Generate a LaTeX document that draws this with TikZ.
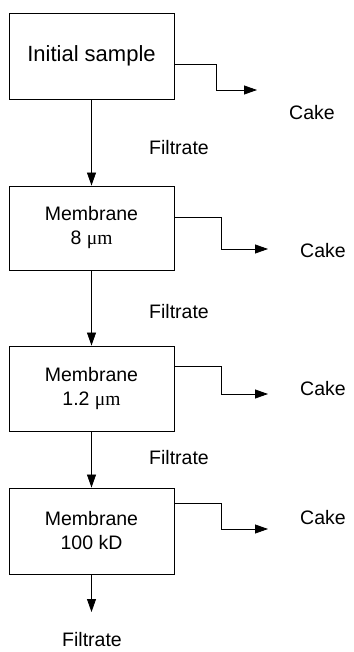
\documentclass[tikz,border=0pt]{standalone}
\usepackage{fontspec}
\setmainfont{Liberation Sans}
\newfontfamily\greekfont{Liberation Serif}
\usetikzlibrary{arrows.meta}

\begin{document}
\begin{tikzpicture}[
  x=1pt, y=-1pt,
  font=\fontsize{19.5}{24}\selectfont,
  box/.style={draw, line width=0.9pt, minimum width=165pt, align=center, inner sep=0pt},
  arr/.style={-{Triangle[length=13pt, width=9pt]}, line width=0.8pt},
  lbl/.style={inner sep=0pt}
]
\useasboundingbox (0,0) rectangle (353,652);

% ── filter boxes ─────────────────────────────────────────────────────────
\node[box, minimum height=86pt, font=\fontsize{22}{26}\selectfont] (sample) at (91.5,56) {Initial sample};
\node[box, minimum height=84pt] (mem8) at (91.5,228) {Membrane\\ 8 {\greekfont μm}};
\node[box, minimum height=85pt] (mem12) at (91.5,388.5) {Membrane\\ 1.2 {\greekfont μm}};
\node[box, minimum height=86pt] (mem100) at (91.5,531) {Membrane\\ 100 kD};

% ── filtrate line ────────────────────────────────────────────────────────
\draw[arr] (sample) -- (mem8);
\draw[arr] (mem8) -- (mem12);
\draw[arr] (mem12) -- (mem100);
\coordinate (out) at (91.5,612);
\draw[arr] (mem100) -- (out);
\node[lbl] (f1) at (179,148) {Filtrate};
\node[lbl] (f2) at (179,312) {Filtrate};
\node[lbl] (f3) at (179,458) {Filtrate};
\node[lbl] (f4) at (92,640) {Filtrate};

% ── cake outlets ─────────────────────────────────────────────────────────
\coordinate (k1) at (257,90);
\coordinate (k2) at (268,249);
\coordinate (k3) at (268,394);
\coordinate (k4) at (268,529);
\draw[arr] ([yshift=-8pt]sample.east) -- ++(42,0) |- (k1);
\draw[arr] ([yshift=11pt]mem8.east) -- ++(47,0) |- (k2);
\draw[arr] ([yshift=22.5pt]mem12.east) -- ++(47,0) |- (k3);
\draw[arr] ([yshift=28pt]mem100.east) -- ++(47,0) |- (k4);
\node[lbl] (c1) at (312,113) {Cake};
\node[lbl] (c2) at (323,251) {Cake};
\node[lbl] (c3) at (323,389) {Cake};
\node[lbl] (c4) at (323,518) {Cake};

\end{tikzpicture}
\end{document}
